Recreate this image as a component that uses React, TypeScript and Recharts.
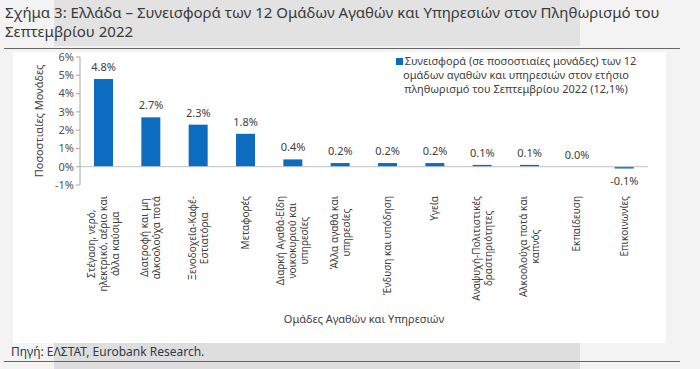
import { ComposedChart, Bar, Line, XAxis, YAxis, ReferenceLine, LabelList } from 'recharts';

const categories: string[][] = [
  ['Στέγαση, νερό,', 'ηλεκτρικό, αέριο και', 'άλλα καύσιμα'],
  ['Διατροφή και μη', 'αλκοολούχα ποτά'],
  ['Ξενοδοχεία-Καφέ-', 'Εστιατόρια'],
  ['Μεταφορές'],
  ['Διαρκή Αγαθά-Είδη', 'νοικοκυριού και', 'υπηρεσίες'],
  ['Άλλα αγαθά και', 'υπηρεσίες'],
  ['Ένδυση και υπόδηση'],
  ['Υγεία'],
  ['Αναψυχή-Πολιτιστικές', 'δραστηριότητες'],
  ['Αλκοολούχα ποτά και', 'καπνός'],
  ['Εκπαίδευση'],
  ['Επικοινωνίες'],
];

const contribution = [4.8, 2.7, 2.3, 1.8, 0.4, 0.2, 0.2, 0.2, 0.1, 0.1, 0.0, -0.1];

const yTicks = [-1, 0, 1, 2, 3, 4, 5, 6];

const legendLines = [
  'Συνεισφορά (σε ποσοστιαίες μονάδες) των 12',
  'ομάδων αγαθών και υπηρεσιών στον ετήσιο',
  'πληθωρισμό του Σεπτεμβρίου 2022 (12,1%)',
];

const FONT = '"Noto Sans", "Open Sans", sans-serif';
const BLUE = '#0b6cc0';

const data = categories.map((c, i) => ({ name: c.join(' '), lines: c, value: contribution[i] }));

let ctx: CanvasRenderingContext2D | null = null;
function textWidth(s: string, size: number) {
  if (!ctx) ctx = document.createElement('canvas').getContext('2d');
  if (!ctx) return s.length * size * 0.5;
  ctx.font = `${size}px ${FONT}`;
  return ctx.measureText(s).width;
}

const CategoryTick = (props: any) => {
  const { x, y, payload } = props;
  const lines: string[] = data[payload.index]?.lines ?? [String(payload.value)];
  const size = 10;
  const lh = 12;
  const widths = lines.map(l => textWidth(l, size));
  const maxW = Math.max(...widths);
  const top = y + 3;
  return (
    <g>
      {lines.map((l, i) => {
        const cx = x + (i - (lines.length - 1) / 2) * lh + 3.5;
        const cy = top + maxW / 2;
        return (
          <text
            key={i}
            x={cx}
            y={cy}
            transform={`rotate(-90 ${cx} ${cy})`}
            textAnchor="middle"
            fontSize={size}
            fontFamily={FONT}
            fill="#404040"
          >
            {l}
          </text>
        );
      })}
    </g>
  );
};

// labels hang on the line points so the 0.0 bar still gets one
const ValueLabel = (props: any) => {
  const { x, y, value } = props;
  const ly = value < 0 ? y + 16 : y - 8;
  return (
    <text x={x} y={ly} textAnchor="middle" fontSize={11} fontFamily={FONT} fill="#404040">
      {`${Number(value).toFixed(1)}%`}
    </text>
  );
};

export default function App() {
  return (
    <div
      style={{
        position: 'fixed',
        left: 0,
        top: 0,
        width: 700,
        height: 369,
        background: '#f3f3f3',
        overflow: 'hidden',
        fontFamily: FONT,
      }}
    >
      <div style={{ position: 'absolute', left: 54, top: 0, width: 526, height: 46, background: '#e2e2e2' }} />
      <div
        style={{
          position: 'absolute',
          left: 5,
          top: 3,
          fontSize: 15,
          lineHeight: '19px',
          color: '#3a3a3a',
          whiteSpace: 'nowrap',
        }}
      >
        <div>Σχήμα 3: Ελλάδα – Συνεισφορά των 12 Ομάδων Αγαθών και Υπηρεσιών στον Πληθωρισμό του</div>
        <div>Σεπτεμβρίου 2022</div>
      </div>
      <div style={{ position: 'absolute', left: 4, top: 48, width: 676, height: 1, background: '#666' }} />
      <div style={{ position: 'absolute', left: 13, top: 52, width: 653, height: 291, background: '#ffffff' }} />
      <div style={{ position: 'absolute', left: 54, top: 343, width: 526, height: 26, background: '#dedede' }} />
      <div style={{ position: 'absolute', left: 11, top: 343, fontSize: 12, color: '#2f3a4a' }}>
        Πηγή: ΕΛΣΤΑΤ, Eurobank Research.
      </div>
      <div style={{ position: 'absolute', left: 4, top: 361, width: 676, height: 1, background: '#666' }} />

      <div style={{ position: 'absolute', left: 0, top: 0 }}>
        <ComposedChart
          width={700}
          height={369}
          data={data}
          margin={{ top: 57, right: 52, left: 0, bottom: 0 }}
          barSize={19}
        >
          <XAxis
            dataKey="name"
            axisLine={false}
            tickLine={false}
            interval={0}
            height={184}
            tick={<CategoryTick />}
            label={{
              value: 'Ομάδες Αγαθών και Υπηρεσιών',
              position: 'insideBottom',
              offset: 46,
              fontSize: 11,
              fontFamily: FONT,
              fill: '#404040',
            }}
          />
          <YAxis
            width={80}
            domain={[-1, 6]}
            ticks={yTicks}
            interval={0}
            tickFormatter={(v: number) => `${v}%`}
            axisLine={{ stroke: '#a6a6a6' }}
            tickLine={{ stroke: '#a6a6a6' }}
            tickSize={4}
            tick={{ fontSize: 11, fontFamily: FONT, fill: '#505050' }}
            label={{
              value: 'Ποσοστιαίες Μονάδες',
              angle: -90,
              position: 'center',
              dx: -1,
              fontSize: 11,
              fontFamily: FONT,
              fill: '#404040',
            }}
          />
          <ReferenceLine y={0} stroke="#c0c0c0" />
          <Bar dataKey="value" fill={BLUE} isAnimationActive={false} />
          <Line
            dataKey="value"
            stroke="none"
            dot={false}
            activeDot={false}
            legendType="none"
            isAnimationActive={false}
          >
            <LabelList dataKey="value" content={<ValueLabel />} />
          </Line>
        </ComposedChart>
      </div>

      <div
        style={{
          position: 'absolute',
          left: 380,
          top: 54,
          width: 272,
          fontSize: 11,
          color: '#404040',
          lineHeight: '14px',
          textAlign: 'center',
        }}
      >
        {legendLines.map((l, i) => (
          <div key={i}>
            {i === 0 && (
              <span style={{ display: 'inline-block', width: 7, height: 7, background: BLUE, marginRight: 2 }} />
            )}
            {l}
          </div>
        ))}
      </div>
    </div>
  );
}
